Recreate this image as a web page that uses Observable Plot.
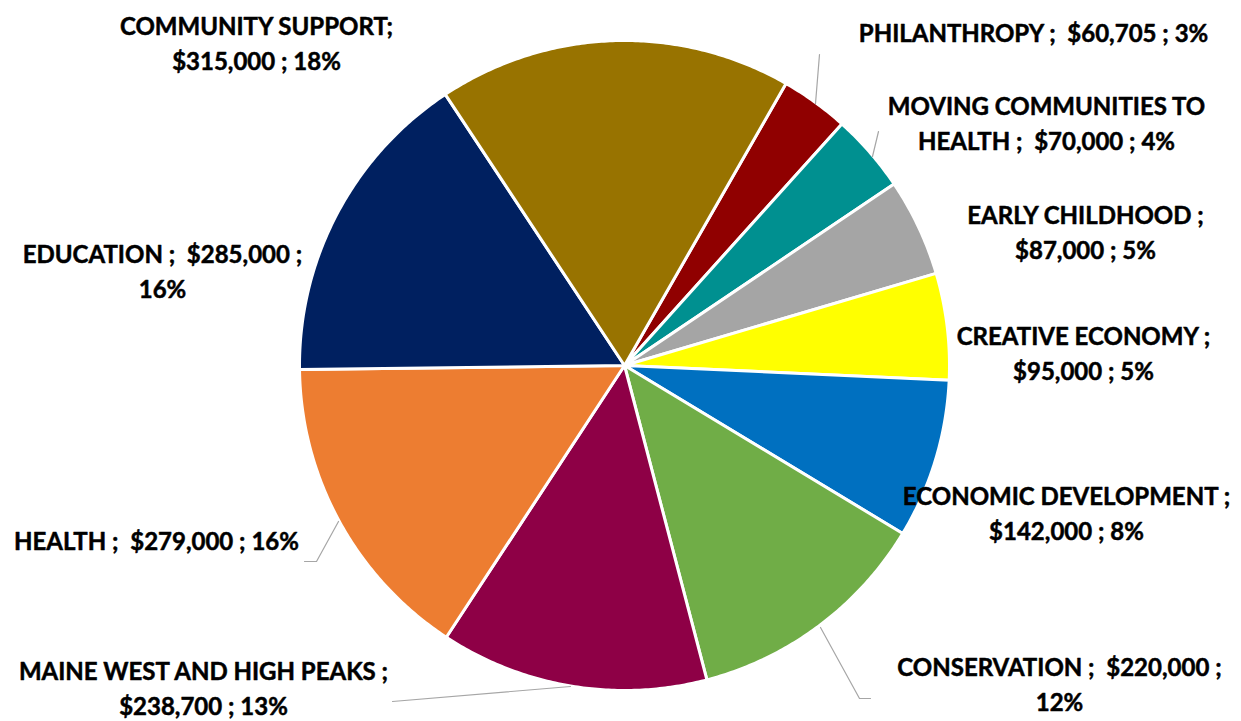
<!DOCTYPE html>
<html>
<head>
<meta charset="utf-8">
<script src="https://cdn.jsdelivr.net/npm/d3@7"></script>
<script src="https://cdn.jsdelivr.net/npm/@observablehq/plot@0.6"></script>
<style>
  html, body { margin: 0; padding: 0; background: #fff; }
  #chart svg { display: block; }
</style>
</head>
<body>
<div id="chart"></div>
<script>
// ---- data ----
const categories = [
  "PHILANTHROPY", "MOVING COMMUNITIES TO HEALTH", "EARLY CHILDHOOD", "CREATIVE ECONOMY",
  "ECONOMIC DEVELOPMENT", "CONSERVATION", "MAINE WEST AND HIGH PEAKS", "HEALTH",
  "EDUCATION", "COMMUNITY SUPPORT"
];
const amounts = [60705, 70000, 87000, 95000, 142000, 220000, 238700, 279000, 285000, 315000];
const colors = ["#900000", "#009090", "#A5A5A5", "#FFFF00", "#0070C0", "#70AD47", "#8E0046", "#ED7D31", "#002060", "#987300"];
const labelTexts = [
  "PHILANTHROPY ;  $60,705 ; 3%",
  "MOVING COMMUNITIES TO\nHEALTH ;  $70,000 ; 4%",
  "EARLY CHILDHOOD ;\n$87,000 ; 5%",
  "CREATIVE ECONOMY ;\n$95,000 ; 5%",
  "ECONOMIC DEVELOPMENT ;\n$142,000 ; 8%",
  "CONSERVATION ;  $220,000 ;\n12%",
  "MAINE WEST AND HIGH PEAKS ;\n$238,700 ; 13%",
  "HEALTH ;  $279,000 ; 16%",
  "EDUCATION ;  $285,000 ;\n16%",
  "COMMUNITY SUPPORT;\n$315,000 ; 18%"
];

// ---- layout ----
const W = 1241, H = 721;
const cx = 624, cy = 365, R = 325;
const startDeg = 29.8; // first slice angle, clockwise from 12 o'clock
const labelPos = [ // label block centres (px)
  [1033, 30], [1046, 121], [1085, 230], [1083, 351], [1066, 511],
  [1059, 682], [203, 686], [156, 538], [162, 269], [256, 41]
];
const leaders = [ // [category index, points]
  [0, [[819, 54], [815, 103]]],
  [1, [[878, 131], [872, 156]]],
  [5, [[820, 627], [859, 698], [870, 698]]],
  [6, [[392, 701], [570, 686]]],
  [7, [[304, 561], [316, 561], [338, 521]]]
];

// ---- build slices from the values ----
const total = d3.sum(amounts);
const slices = [];
let acc = startDeg;
categories.forEach((name, i) => {
  const span = amounts[i] / total * 360;
  const a0 = acc, a1 = acc + span;
  acc = a1;
  const pts = [{name, x: cx, y: cy}];
  const n = Math.max(2, Math.ceil(span / 0.5));
  for (let k = 0; k <= n; k++) {
    const a = (a0 + (a1 - a0) * k / n) * Math.PI / 180;
    pts.push({name, x: cx + R * Math.sin(a), y: cy - R * Math.cos(a)});
  }
  pts.push({name, x: cx, y: cy});
  slices.push(...pts);
});

const labels = categories.map((name, i) => ({name, text: labelTexts[i], x: labelPos[i][0], y: labelPos[i][1]}));
const leaderPts = leaders.flatMap(([i, pts]) => pts.map(([x, y]) => ({id: i, x, y})));

const chart = Plot.plot({
  width: W,
  height: H,
  margin: 0,
  x: {domain: [0, W], range: [0, W], axis: null},
  y: {domain: [0, H], range: [0, H], axis: null},
  color: {domain: categories, range: colors},
  style: {background: "white"},
  marks: [
    Plot.line(slices, {x: "x", y: "y", z: "name", fill: "name", stroke: "white", strokeWidth: 3, strokeLinejoin: "round"}),
    Plot.line(leaderPts, {x: "x", y: "y", z: "id", stroke: "#A6A6A6", strokeWidth: 1.2}),
    Plot.text(labels, {
      x: "x", y: "y", text: "text",
      fontFamily: "Lato, 'Open Sans', sans-serif",
      fontWeight: "bold", fontSize: 24, lineHeight: 1.45,
      fill: "black", stroke: "black", strokeWidth: 0.5, textAnchor: "middle"
    })
  ]
});
document.getElementById("chart").appendChild(chart);
</script>
</body>
</html>
